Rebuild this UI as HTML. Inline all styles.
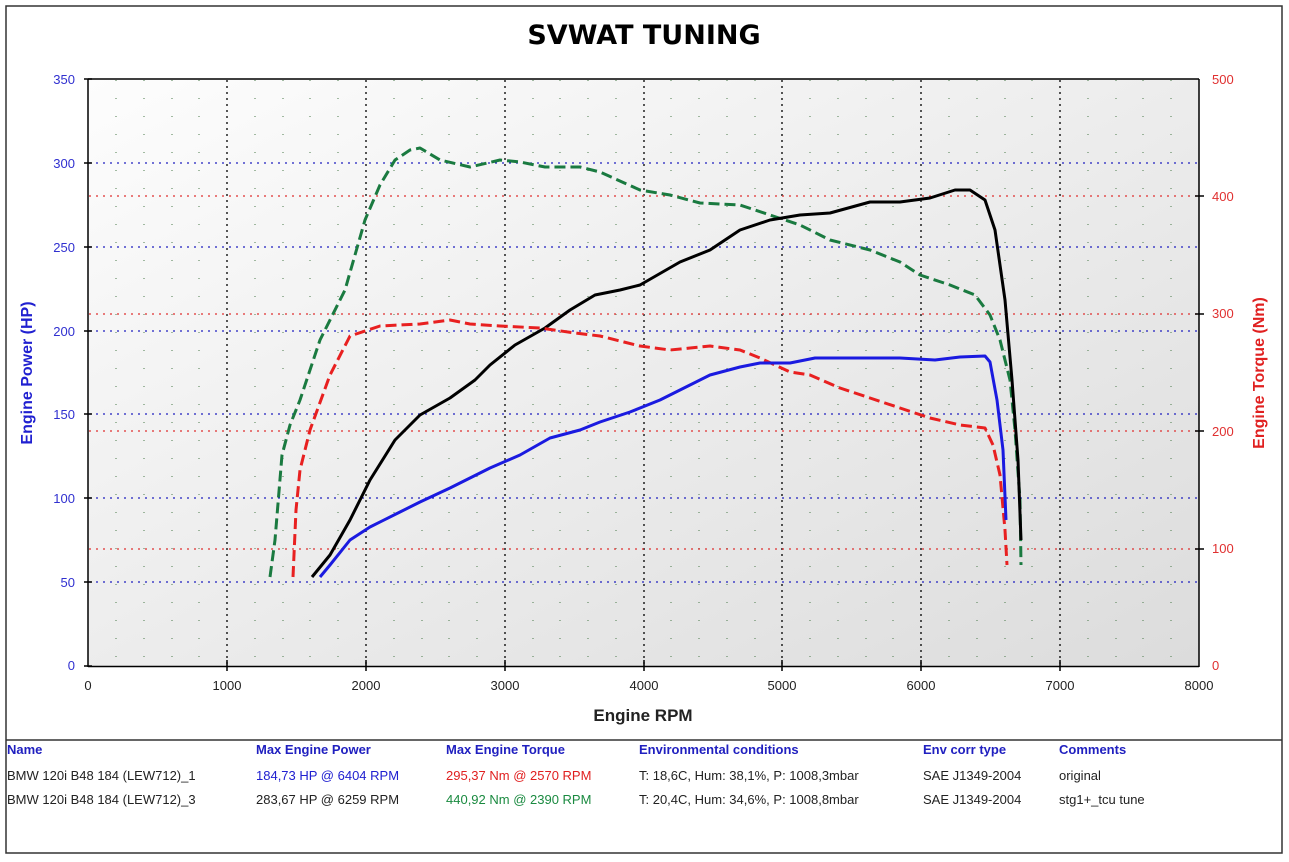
<!DOCTYPE html>
<html><head><meta charset="utf-8"><style>
body{margin:0;background:#fff;font-family:"Liberation Sans",sans-serif}
</style></head><body>
<svg width="1289" height="857" xmlns="http://www.w3.org/2000/svg" font-family="Liberation Sans, sans-serif">
<defs><linearGradient id="g" x1="0" y1="0" x2="1" y2="1"><stop offset="0" stop-color="#fdfdfd"/><stop offset="1" stop-color="#dcdcdc"/></linearGradient></defs>
<rect x="6" y="6" width="1276" height="847" fill="#fff" stroke="#333" stroke-width="1.5"/>
<line x1="6" y1="740" x2="1282" y2="740" stroke="#333" stroke-width="1.5"/>
<text x="644" y="44" text-anchor="middle" font-size="27" font-weight="bold" font-family="DejaVu Sans, sans-serif" letter-spacing="0">SVWAT TUNING</text>
<rect x="88" y="79" width="1111" height="587" fill="url(#g)"/>
<g stroke="#4a7a4a" stroke-width="1" stroke-dasharray="1 17">
<line x1="116" y1="80" x2="116" y2="666"/><line x1="144" y1="80" x2="144" y2="666"/><line x1="172" y1="80" x2="172" y2="666"/><line x1="199" y1="80" x2="199" y2="666"/>
<line x1="255" y1="80" x2="255" y2="666"/><line x1="283" y1="80" x2="283" y2="666"/><line x1="310" y1="80" x2="310" y2="666"/><line x1="338" y1="80" x2="338" y2="666"/>
<line x1="394" y1="80" x2="394" y2="666"/><line x1="422" y1="80" x2="422" y2="666"/><line x1="449" y1="80" x2="449" y2="666"/><line x1="477" y1="80" x2="477" y2="666"/>
<line x1="533" y1="80" x2="533" y2="666"/><line x1="560" y1="80" x2="560" y2="666"/><line x1="588" y1="80" x2="588" y2="666"/><line x1="616" y1="80" x2="616" y2="666"/>
<line x1="671" y1="80" x2="671" y2="666"/><line x1="699" y1="80" x2="699" y2="666"/><line x1="727" y1="80" x2="727" y2="666"/><line x1="755" y1="80" x2="755" y2="666"/>
<line x1="810" y1="80" x2="810" y2="666"/><line x1="838" y1="80" x2="838" y2="666"/><line x1="866" y1="80" x2="866" y2="666"/><line x1="893" y1="80" x2="893" y2="666"/>
<line x1="949" y1="80" x2="949" y2="666"/><line x1="977" y1="80" x2="977" y2="666"/><line x1="1005" y1="80" x2="1005" y2="666"/><line x1="1032" y1="80" x2="1032" y2="666"/>
<line x1="1088" y1="80" x2="1088" y2="666"/><line x1="1116" y1="80" x2="1116" y2="666"/><line x1="1143" y1="80" x2="1143" y2="666"/><line x1="1171" y1="80" x2="1171" y2="666"/>
</g>
<g stroke="#000" stroke-width="1.3" stroke-dasharray="2 4">
<line x1="227" y1="80" x2="227" y2="666"/><line x1="366" y1="80" x2="366" y2="666"/><line x1="505" y1="80" x2="505" y2="666"/><line x1="644" y1="80" x2="644" y2="666"/><line x1="782" y1="80" x2="782" y2="666"/><line x1="921" y1="80" x2="921" y2="666"/><line x1="1060" y1="80" x2="1060" y2="666"/>
</g>
<g stroke="#2020c0" stroke-width="1.3" stroke-dasharray="2 5">
<line x1="89" y1="163" x2="1199" y2="163"/><line x1="89" y1="247" x2="1199" y2="247"/><line x1="89" y1="331" x2="1199" y2="331"/><line x1="89" y1="414" x2="1199" y2="414"/><line x1="89" y1="498" x2="1199" y2="498"/><line x1="89" y1="582" x2="1199" y2="582"/>
</g>
<g stroke="#e03030" stroke-width="1.3" stroke-dasharray="2 5">
<line x1="89" y1="196" x2="1199" y2="196"/><line x1="89" y1="314" x2="1199" y2="314"/><line x1="89" y1="431" x2="1199" y2="431"/><line x1="89" y1="549" x2="1199" y2="549"/>
</g>
<g stroke="#000" stroke-width="1.5" fill="none">
<line x1="88" y1="79" x2="88" y2="667"/><line x1="1199" y1="79" x2="1199" y2="667"/><line x1="88" y1="666.5" x2="1199" y2="666.5"/><line x1="88" y1="79" x2="1199" y2="79"/>
<line x1="84" y1="79" x2="92" y2="79"/><line x1="84" y1="163" x2="92" y2="163"/><line x1="84" y1="247" x2="92" y2="247"/><line x1="84" y1="331" x2="92" y2="331"/><line x1="84" y1="414" x2="92" y2="414"/><line x1="84" y1="498" x2="92" y2="498"/><line x1="84" y1="582" x2="92" y2="582"/><line x1="84" y1="666" x2="92" y2="666"/>
<line x1="1195" y1="196" x2="1204" y2="196"/><line x1="1195" y1="314" x2="1204" y2="314"/><line x1="1195" y1="431" x2="1204" y2="431"/><line x1="1195" y1="549" x2="1204" y2="549"/>
<line x1="227" y1="660" x2="227" y2="671"/><line x1="366" y1="660" x2="366" y2="671"/><line x1="505" y1="660" x2="505" y2="671"/><line x1="644" y1="660" x2="644" y2="671"/><line x1="782" y1="660" x2="782" y2="671"/><line x1="921" y1="660" x2="921" y2="671"/><line x1="1060" y1="660" x2="1060" y2="671"/>
</g>
<g font-size="13" fill="#3030d0" text-anchor="end">
<text x="75" y="84">350</text><text x="75" y="168">300</text><text x="75" y="252">250</text><text x="75" y="336">200</text><text x="75" y="419">150</text><text x="75" y="503">100</text><text x="75" y="587">50</text><text x="75" y="670">0</text>
</g>
<g font-size="13" fill="#e03030">
<text x="1212" y="84">500</text><text x="1212" y="201">400</text><text x="1212" y="318">300</text><text x="1212" y="436">200</text><text x="1212" y="553">100</text><text x="1212" y="670">0</text>
</g>
<g font-size="13" fill="#222" text-anchor="middle">
<text x="88" y="690">0</text><text x="227" y="690">1000</text><text x="366" y="690">2000</text><text x="505" y="690">3000</text><text x="644" y="690">4000</text><text x="782" y="690">5000</text><text x="921" y="690">6000</text><text x="1060" y="690">7000</text><text x="1199" y="690">8000</text>
</g>
<text x="643" y="721" text-anchor="middle" font-size="17" font-weight="bold" fill="#222">Engine RPM</text>
<text transform="translate(32,373) rotate(-90)" text-anchor="middle" font-size="16" font-weight="bold" fill="#2020d0">Engine Power (HP)</text>
<text transform="translate(1264,373) rotate(-90)" text-anchor="middle" font-size="16" font-weight="bold" fill="#e02020">Engine Torque (Nm)</text>
<g fill="none" stroke-width="3" stroke-linejoin="round">
<polyline stroke="#1a7a40" stroke-dasharray="11 5" points="270,577 275,540 282,455 290,425 300,400 320,340 345,290 365,220 380,185 395,160 410,150 420,148 440,160 470,167 500,160 520,162 545,167 580,167 600,172 640,190 670,195 700,203 740,205 770,215 800,225 830,240 870,250 900,262 920,275 950,285 975,295 990,315 1000,340 1010,380 1015,430 1020,500 1021,565"/>
<polyline stroke="#000" points="312,577 330,555 350,520 370,480 395,440 420,415 450,398 475,380 490,365 515,345 545,328 570,310 595,295 620,290 640,285 680,262 710,250 740,230 770,220 800,215 830,213 870,202 900,202 930,198 955,190 970,190 985,200 995,230 1005,300 1012,380 1018,460 1021,540"/>
<polyline stroke="#e82020" stroke-dasharray="11 5" points="293,577 296,510 300,470 310,430 330,375 350,336 380,326 420,324 450,320 470,324 500,326 540,328 575,333 600,336 640,346 670,350 710,346 740,350 760,358 790,372 810,375 840,388 870,398 900,408 930,418 960,425 985,428 993,445 1000,475 1005,530 1007,565"/>
<polyline stroke="#1a1ae0" points="320,577 330,565 350,540 370,527 400,512 420,502 450,488 490,468 520,455 550,438 580,430 600,422 630,412 660,400 690,385 710,375 740,367 760,363 790,363 815,358 850,358 900,358 935,360 960,357 985,356 990,362 997,400 1003,450 1006,520"/>
</g>
<g font-size="13" font-weight="bold" fill="#2020c0">
<text x="7" y="754">Name</text><text x="256" y="754">Max Engine Power</text><text x="446" y="754">Max Engine Torque</text><text x="639" y="754">Environmental conditions</text><text x="923" y="754">Env corr type</text><text x="1059" y="754">Comments</text>
</g>
<g font-size="13" fill="#222">
<text x="7" y="780">BMW 120i B48 184 (LEW712)_1</text><text x="256" y="780" fill="#2020d0">184,73 HP @ 6404 RPM</text><text x="446" y="780" fill="#e02020">295,37 Nm @ 2570 RPM</text><text x="639" y="780">T: 18,6C, Hum: 38,1%, P: 1008,3mbar</text><text x="923" y="780">SAE J1349-2004</text><text x="1059" y="780">original</text>
<text x="7" y="804">BMW 120i B48 184 (LEW712)_3</text><text x="256" y="804">283,67 HP @ 6259 RPM</text><text x="446" y="804" fill="#1a8a40">440,92 Nm @ 2390 RPM</text><text x="639" y="804">T: 20,4C, Hum: 34,6%, P: 1008,8mbar</text><text x="923" y="804">SAE J1349-2004</text><text x="1059" y="804">stg1+_tcu tune</text>
</g>
</svg>
</body></html>
